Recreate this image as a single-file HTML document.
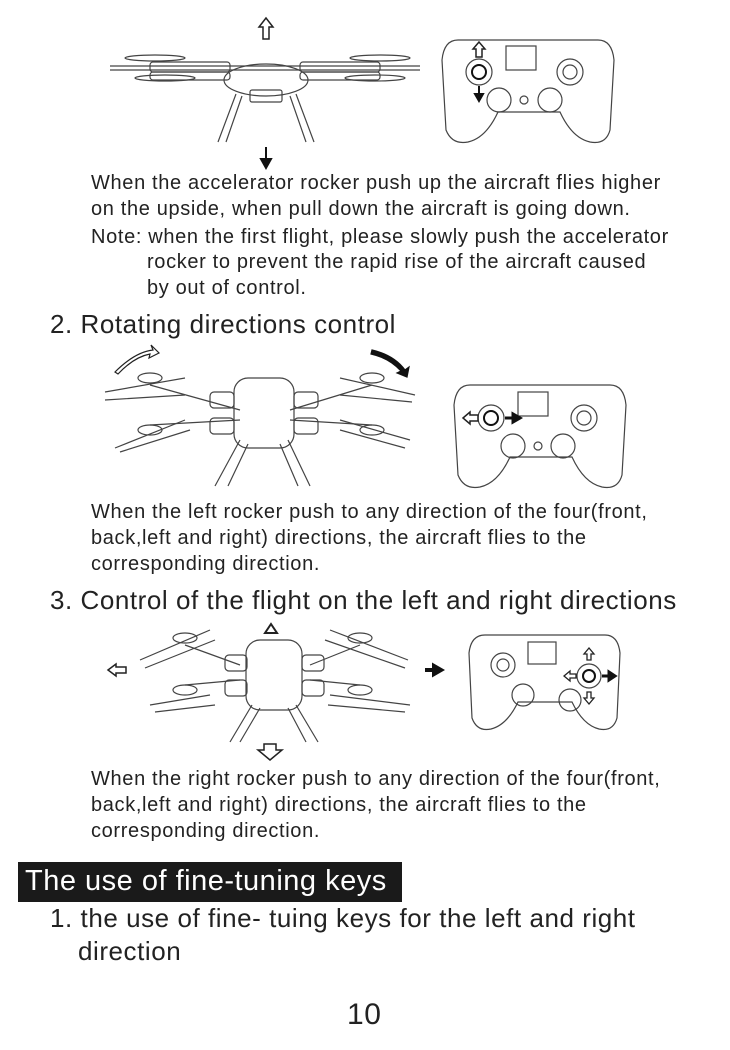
<!DOCTYPE html>
<html><head><meta charset="utf-8">
<style>
html,body{margin:0;padding:0;background:#fff;}
body{width:730px;height:1050px;position:relative;overflow:hidden;font-family:"Liberation Sans",sans-serif;color:#222;}
.t{position:absolute;font-size:20px;letter-spacing:0.65px;white-space:nowrap;line-height:1;}
.h{position:absolute;font-size:26px;letter-spacing:0.55px;white-space:nowrap;line-height:1;}
svg{position:absolute;left:0;top:0;}
</style></head><body>
<svg width="730" height="1050" viewBox="0 0 730 1050" fill="none" stroke="#444" stroke-width="1.2">
<g>
<path d="M266 18 l-7 9 h4 v12 h6 v-12 h4 z" stroke="#222" stroke-width="1.5"/>
<ellipse cx="155" cy="58" rx="30" ry="3"/><ellipse cx="380" cy="58" rx="30" ry="3"/>
<ellipse cx="165" cy="78" rx="30" ry="3"/><ellipse cx="375" cy="78" rx="30" ry="3"/>
<rect x="150" y="62" width="80" height="10" rx="3"/><rect x="300" y="62" width="80" height="10" rx="3"/>
<rect x="150" y="72" width="80" height="8" rx="3"/><rect x="300" y="72" width="80" height="8" rx="3"/>
<path d="M110 66 h310 M110 70 h310"/>
<ellipse cx="266" cy="80" rx="42" ry="16"/>
<rect x="250" y="90" width="32" height="12" rx="2"/>
<path d="M236 94 L218 142 M242 96 L226 142 M296 94 L314 142 M290 96 L306 142"/>
<path d="M266 147 v12 h-5 l5 9 l5 -9 h-5" fill="#111" stroke="#111" stroke-width="2"/>
</g>
<g>
<path d="M458 40 h140 q14 0 16 20 l-4 70 q-4 15 -20 12 q-18 -4 -30 -30 h-62 q-12 26 -30 30 q-16 3 -22 -12 l-4 -70 q2 -20 16 -20 z"/>
<rect x="506" y="46" width="30" height="24"/>
<circle cx="479" cy="72" r="13"/><circle cx="479" cy="72" r="7" stroke="#111" stroke-width="2"/>
<circle cx="570" cy="72" r="13"/><circle cx="570" cy="72" r="7"/>
<circle cx="499" cy="100" r="12"/><circle cx="550" cy="100" r="12"/>
<circle cx="524" cy="100" r="4"/>
<path d="M479 42 l-6 7 h3 v8 h6 v-8 h3 z" stroke="#222" stroke-width="1.5"/>
<path d="M479 86 v8 h-4 l4 7 l4 -7 h-4" fill="#111" stroke="#111" stroke-width="2"/>
</g>
<g>
<path d="M115 372 q20 -20 38 -22 l-2 -5 l8 8 l-10 5 l1 -4 q-16 3 -32 20 z" stroke="#222"/>
<path d="M372 350 q22 5 33 20 l4 -3 l-2 10 l-10 -4 l4 -2 q-12 -13 -30 -17 z" fill="#111" stroke="#111"/>
<ellipse cx="150" cy="378" rx="12" ry="5"/><ellipse cx="150" cy="430" rx="12" ry="5"/>
<ellipse cx="372" cy="378" rx="12" ry="5"/><ellipse cx="372" cy="430" rx="12" ry="5"/>
<path d="M105 392 L185 378 M105 400 L185 395 M115 448 L185 420 M120 452 L190 430 M340 378 L415 395 M340 395 L412 402 M340 420 L410 440 M340 430 L405 448"/>
<path d="M150 385 L240 410 M150 425 L240 420 M372 385 L290 410 M372 425 L290 420"/>
<rect x="234" y="378" width="60" height="70" rx="14"/>
<rect x="210" y="392" width="24" height="16" rx="4"/><rect x="210" y="418" width="24" height="16" rx="4"/>
<rect x="294" y="392" width="24" height="16" rx="4"/><rect x="294" y="418" width="24" height="16" rx="4"/>
<path d="M240 440 L215 486 M248 444 L228 486 M288 440 L310 486 M280 444 L298 486"/>
</g>
<g>
<path d="M470 385 h140 q14 0 16 20 l-4 70 q-4 15 -20 12 q-18 -4 -30 -30 h-62 q-12 26 -30 30 q-16 3 -22 -12 l-4 -70 q2 -20 16 -20 z"/>
<rect x="518" y="392" width="30" height="24"/>
<circle cx="491" cy="418" r="13"/><circle cx="491" cy="418" r="7" stroke="#111" stroke-width="2"/>
<circle cx="584" cy="418" r="13"/><circle cx="584" cy="418" r="7"/>
<circle cx="513" cy="446" r="12"/><circle cx="563" cy="446" r="12"/><circle cx="538" cy="446" r="4"/>
<path d="M463 418 l7 -6 v3 h8 v6 h-8 v3 z" stroke="#222" stroke-width="1.5"/>
<path d="M505 418 h8 v-4 l7 4 l-7 4 v-4" fill="#111" stroke="#111" stroke-width="3"/>
</g>
<g>
<path d="M271 624 l-6 9 h12 z" stroke="#222" stroke-width="2"/>
<path d="M108 670 l8 -6 v3 h10 v6 h-10 v3 z" stroke="#222" stroke-width="1.5"/>
<path d="M425 670 h9 v-4 l7 4 l-7 4 v-4" fill="#111" stroke="#111" stroke-width="4"/>
<path d="M264 744 h12 v6 h6 l-12 10 l-12 -10 h6 z" stroke="#222" stroke-width="1.5"/>
<ellipse cx="185" cy="638" rx="12" ry="5"/><ellipse cx="185" cy="690" rx="12" ry="5"/>
<ellipse cx="360" cy="638" rx="12" ry="5"/><ellipse cx="360" cy="690" rx="12" ry="5"/>
<path d="M140 660 L210 630 M145 668 L215 640 M150 705 L210 695 M155 712 L215 705 M330 630 L408 660 M325 640 L405 668 M330 695 L410 705 M328 705 L405 712"/>
<path d="M185 645 L240 665 M185 685 L240 680 M360 645 L310 665 M360 685 L310 680"/>
<rect x="246" y="640" width="56" height="70" rx="14"/>
<rect x="225" y="655" width="22" height="16" rx="4"/><rect x="225" y="680" width="22" height="16" rx="4"/>
<rect x="302" y="655" width="22" height="16" rx="4"/><rect x="302" y="680" width="22" height="16" rx="4"/>
<path d="M252 705 L230 742 M260 708 L240 742 M296 705 L318 742 M288 708 L306 742"/>
</g>
<g>
<path d="M485 635 h120 q13 0 15 18 l-3 65 q-4 14 -18 11 q-16 -4 -27 -27 h-54 q-11 23 -27 27 q-14 3 -19 -11 l-3 -65 q2 -18 16 -18 z"/>
<rect x="528" y="642" width="28" height="22"/>
<circle cx="503" cy="665" r="12"/><circle cx="503" cy="665" r="6"/>
<circle cx="589" cy="676" r="12"/><circle cx="589" cy="676" r="6" stroke="#111" stroke-width="2"/>
<circle cx="523" cy="695" r="11"/><circle cx="570" cy="700" r="11"/>
<path d="M589 648 l-5 6 h3 v6 h4 v-6 h3 z M589 704 l-5 -6 h3 v-6 h4 v6 h3 z M564 676 l6 -5 v3 h6 v4 h-6 v3 z" stroke="#222" stroke-width="1.3"/>
<path d="M602 676 h7 v-4 l6 4 l-6 4 v-4" fill="#111" stroke="#111" stroke-width="3"/>
</g>
</svg>

<div class="t" style="left:91px;top:173px">When the accelerator rocker push up the aircraft flies higher</div>
<div class="t" style="left:91px;top:199px">on the upside, when pull down the aircraft is going down.</div>
<div class="t" style="left:91px;top:227px">Note: when the first flight, please slowly push the accelerator</div>
<div class="t" style="left:147px;top:252px">rocker to prevent the rapid rise of the aircraft caused</div>
<div class="t" style="left:147px;top:278px">by out of control.</div>
<div class="h" style="left:50px;top:311px">2. Rotating directions control</div>
<div class="t" style="left:91px;top:502px">When the left rocker push to any direction of the four(front,</div>
<div class="t" style="left:91px;top:528px">back,left and right) directions, the aircraft flies to the</div>
<div class="t" style="left:91px;top:554px">corresponding direction.</div>
<div class="h" style="left:50px;top:587px">3. Control of the flight on the left and right directions</div>
<div class="t" style="left:91px;top:769px">When the right rocker push to any direction of the four(front,</div>
<div class="t" style="left:91px;top:795px">back,left and right) directions, the aircraft flies to the</div>
<div class="t" style="left:91px;top:821px">corresponding direction.</div>
<div style="position:absolute;left:18px;top:862px;width:384px;height:40px;background:#1a1a1a;"></div>
<div class="h" style="left:25px;top:867px;color:#fff;font-size:29px;letter-spacing:0.5px">The use of fine-tuning keys</div>
<div class="h" style="left:50px;top:905px">1. the use of fine- tuing keys for the left and right</div>
<div class="h" style="left:78px;top:938px">direction</div>
<div class="h" style="left:347px;top:1000px;font-size:30px">10</div>
</body></html>
